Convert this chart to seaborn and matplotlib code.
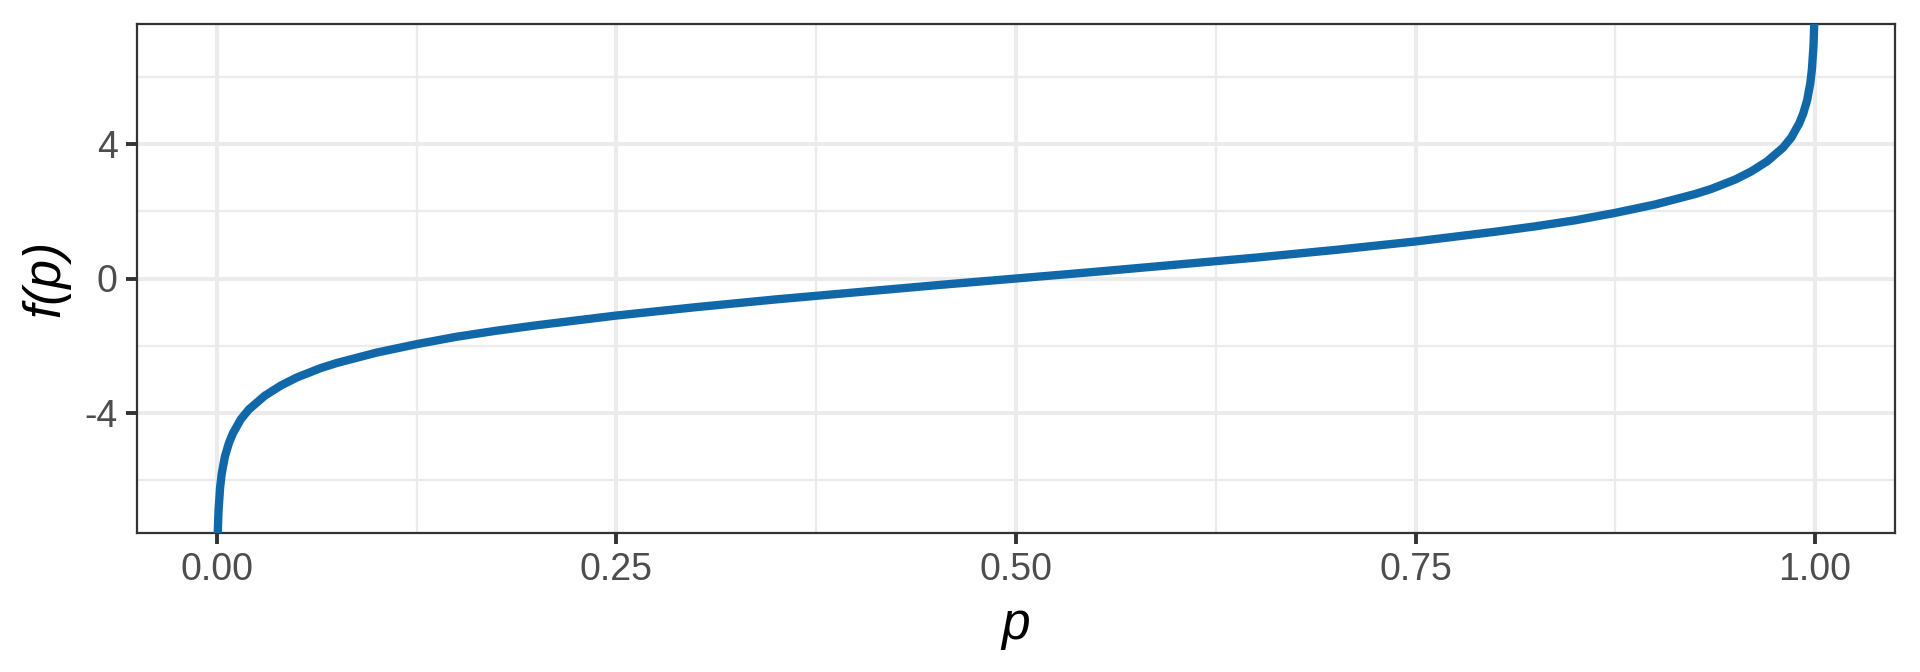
import seaborn as sns
import pandas as pd
import matplotlib.pyplot as plt
from matplotlib.ticker import MultipleLocator

# values
p_values = [0.0003, 0.0005, 0.001, 0.002, 0.003, 0.005, 0.0075, 0.01, 0.015,
            0.02, 0.03, 0.04, 0.05, 0.065, 0.075, 0.1, 0.125, 0.15, 0.175,
            0.2, 0.25, 0.3, 0.35, 0.4, 0.45, 0.5, 0.55, 0.6, 0.65, 0.7, 0.75,
            0.8, 0.825, 0.85, 0.875, 0.9, 0.925, 0.935, 0.95, 0.96, 0.97,
            0.98, 0.985, 0.99, 0.9925, 0.995, 0.997, 0.998, 0.999, 0.9995,
            0.9997]
f_values = [-8.11, -7.60, -6.91, -6.21, -5.80, -5.29, -4.89, -4.60, -4.18,
            -3.89, -3.48, -3.18, -2.94, -2.66, -2.51, -2.20, -1.95, -1.73,
            -1.55, -1.39, -1.10, -0.85, -0.62, -0.41, -0.20, 0.00, 0.20, 0.41,
            0.62, 0.85, 1.10, 1.39, 1.55, 1.73, 1.95, 2.20, 2.51, 2.66, 2.94,
            3.18, 3.48, 3.89, 4.18, 4.60, 4.89, 5.29, 5.80, 6.21, 6.91, 7.60,
            8.11]

x_ticks = [0.00, 0.25, 0.50, 0.75, 1.00]
x_tick_labels = ['0.00', '0.25', '0.50', '0.75', '1.00']
y_ticks = [-4, 0, 4]
y_tick_labels = ['-4', '0', '4']


def plot_logit(curve):
    sns.set_style('white')
    plt.rcParams['font.family'] = ['Liberation Sans', 'DejaVu Sans']

    fig = plt.figure(figsize=(19.2, 6.72), dpi=100)
    ax = fig.add_axes([137 / 1920, 1 - 533 / 672, (1895 - 137) / 1920, (533 - 24) / 672])

    sns.lineplot(data=curve, x='p', y='f', sort=False, color='#1068A9',
                 linewidth=6, solid_capstyle='butt', ax=ax, zorder=3)

    ax.set_xlim(-0.05, 1.05)
    ax.set_ylim(-7.56, 7.56)
    ax.set_xticks(x_ticks)
    ax.set_xticklabels(x_tick_labels)
    ax.set_yticks(y_ticks)
    ax.set_yticklabels(y_tick_labels)
    ax.xaxis.set_minor_locator(MultipleLocator(0.125))
    ax.yaxis.set_minor_locator(MultipleLocator(2))

    ax.grid(which='major', color='#EBEBEB', linewidth=2.9, zorder=0)
    ax.grid(which='minor', color='#EBEBEB', linewidth=1.6, zorder=0)
    ax.set_axisbelow(True)

    ax.tick_params(which='major', length=8, width=2.8, color='#333333',
                   labelsize=27, labelcolor='#4D4D4D', pad=6,
                   bottom=True, left=True)
    ax.tick_params(which='minor', length=0)

    for spine in ax.spines.values():
        spine.set_visible(True)
        spine.set_color('#333333')
        spine.set_linewidth(1.6)

    ax.set_xlabel('p', fontsize=37, fontstyle='italic', color='black', labelpad=9)
    ax.set_ylabel('f(p)', fontsize=37, fontstyle='italic', color='black', labelpad=10)

    fig.savefig('out.png', dpi=100)


curve = pd.DataFrame({'p': p_values, 'f': f_values})
plot_logit(curve)
